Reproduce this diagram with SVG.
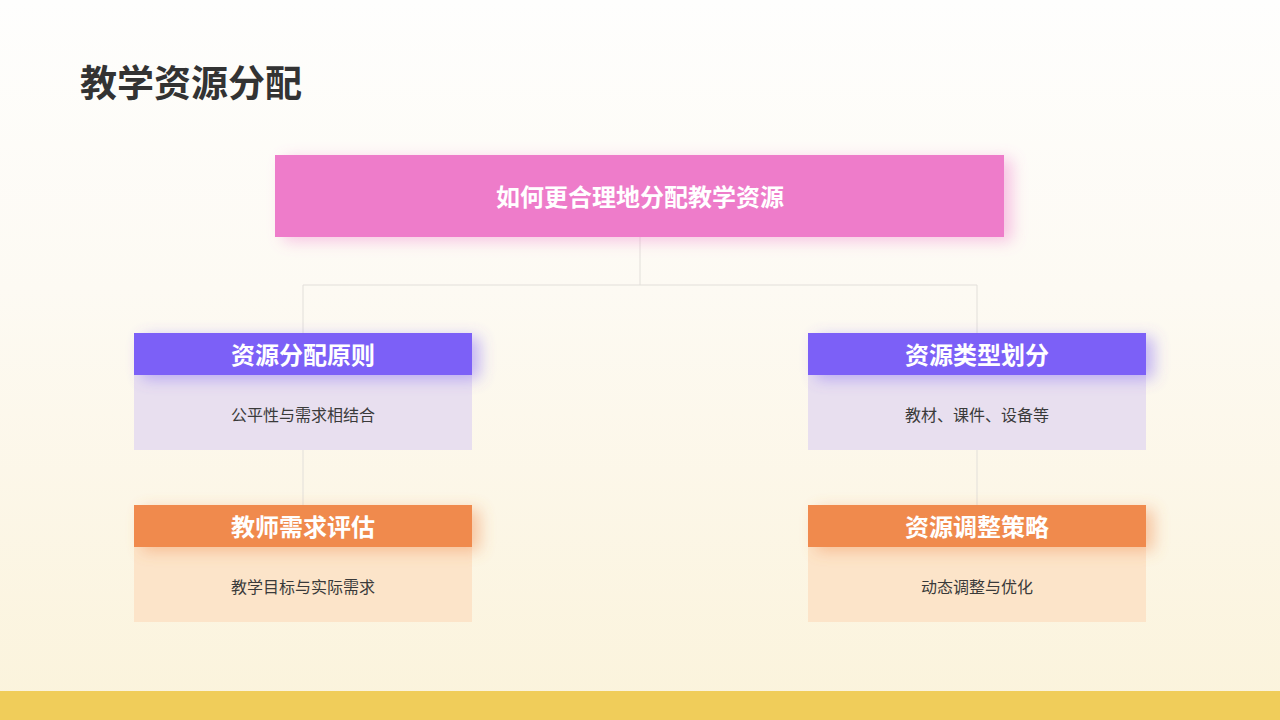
<svg xmlns="http://www.w3.org/2000/svg" width="1280" height="720" viewBox="0 0 1280 720">
  <defs>
    <linearGradient id="bg" x1="0" y1="0" x2="0" y2="1">
      <stop offset="0" stop-color="#FEFEFD"/>
      <stop offset="0.4" stop-color="#FDFAF3"/>
      <stop offset="1" stop-color="#FBF3DB"/>
    </linearGradient>
    <filter id="glow" x="-20%" y="-60%" width="140%" height="220%">
      <feGaussianBlur in="SourceGraphic" stdDeviation="8" result="b"/>
      <feOffset in="b" dx="8" dy="4" result="o"/>
      <feComponentTransfer in="o" result="t"><feFuncA type="linear" slope="0.45"/></feComponentTransfer>
      <feMerge><feMergeNode in="t"/><feMergeNode in="SourceGraphic"/></feMerge>
    </filter>
    <style>
      .title{font-family:"Noto Sans CJK SC","Noto Sans",sans-serif;font-weight:700;font-size:37px;fill:#333333}
      .head{font-family:"Noto Sans CJK SC","Noto Sans",sans-serif;font-weight:700;font-size:24px;fill:#FFFFFF;text-anchor:middle;dominant-baseline:central}
      .body{font-family:"Noto Sans CJK SC","Noto Sans",sans-serif;font-size:16px;fill:#3A3A3A;text-anchor:middle;dominant-baseline:central}
      .conn{fill:none;stroke:#E2DFDA;stroke-width:1}
      .purple{fill:#7B61F7}
      .purpleBody{fill:#E8DFEF}
      .orange{fill:#F08A4D}
      .orangeBody{fill:#FCE4C9}
    </style>
  </defs>
  <rect x="0" y="0" width="1280" height="720" fill="url(#bg)"/>
  <rect x="0" y="691" width="1280" height="29" fill="#F0CD5A"/>
  <text class="title" x="80" y="97">教学资源分配</text>

  <g id="connectors">
    <path class="conn" d="M640 237 V285 M303 333 V285 H977 V333 M303 450 V505 M977 450 V505"/>
  </g>

  <g id="root">
    <rect x="275" y="155" width="729" height="82" fill="#EE7BCA" filter="url(#glow)"/>
    <text class="head" x="640" y="195">如何更合理地分配教学资源</text>
  </g>

  <g id="node-principle">
    <rect class="purpleBody" x="134" y="375" width="338" height="75"/>
    <rect class="purple" x="134" y="333" width="338" height="42" filter="url(#glow)"/>
    <text class="head" x="303" y="353">资源分配原则</text>
    <text class="body" x="303" y="414">公平性与需求相结合</text>
  </g>

  <g id="node-teacher">
    <rect class="orangeBody" x="134" y="547" width="338" height="75"/>
    <rect class="orange" x="134" y="505" width="338" height="42" filter="url(#glow)"/>
    <text class="head" x="303" y="525">教师需求评估</text>
    <text class="body" x="303" y="586">教学目标与实际需求</text>
  </g>

  <g id="node-types">
    <rect class="purpleBody" x="808" y="375" width="338" height="75"/>
    <rect class="purple" x="808" y="333" width="338" height="42" filter="url(#glow)"/>
    <text class="head" x="977" y="353">资源类型划分</text>
    <text class="body" x="977" y="414">教材、课件、设备等</text>
  </g>

  <g id="node-strategy">
    <rect class="orangeBody" x="808" y="547" width="338" height="75"/>
    <rect class="orange" x="808" y="505" width="338" height="42" filter="url(#glow)"/>
    <text class="head" x="977" y="525">资源调整策略</text>
    <text class="body" x="977" y="586">动态调整与优化</text>
  </g>
</svg>
